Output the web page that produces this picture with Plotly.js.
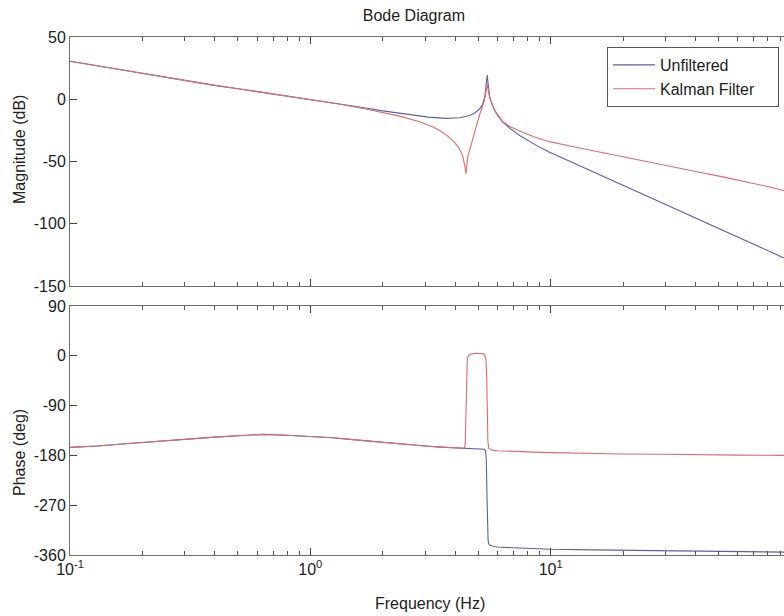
<!DOCTYPE html>
<html>
<head>
<meta charset="utf-8">
<script src="https://cdn.plot.ly/plotly-3.0.1.min.js"></script>
<style>
html,body{margin:0;padding:0;overflow:hidden;background:#fff;}
#chart{width:792px;height:616px;}
</style>
</head>
<body>
<div id="chart"></div>
<script>
// ---- Data (frequency in Hz) ----
const seriesNames = ["Unfiltered", "Kalman Filter"];

const freqMagUnfiltered = [0.1, 0.13, 0.17, 0.2, 0.3, 0.4, 0.5, 0.7, 1.0, 1.3, 1.7, 2.0, 2.35, 2.7, 3.1, 3.69, 4.2, 4.6, 4.85, 5.07, 5.2, 5.32, 5.38, 5.42, 5.45, 5.48, 5.52, 5.58, 5.7, 5.85, 6.05, 6.32, 6.8, 7.43, 8.72, 9.9, 12, 16, 20, 25, 32, 41.6, 52, 67, 80, 92, 100];
const magUnfiltered = [30.5, 26.8, 23, 20.6, 15.3, 11.2, 8.5, 4.4, 0, -3.4, -7, -9.3, -11, -12.8, -14.3, -15.3, -14.8, -13, -10.8, -7.5, -4.5, 2, 10, 17, 19.4, 14, 7, 2, -4, -8.9, -13.5, -18.3, -23.5, -29, -37, -42.5, -49.8, -60.6, -69, -77.5, -86.8, -96.7, -105, -114.7, -120.8, -126.7, -129.9];

const freqMagKalman = [0.1, 0.13, 0.17, 0.2, 0.3, 0.4, 0.5, 0.7, 1.0, 1.3, 1.7, 2.0, 2.35, 2.85, 3.22, 3.45, 3.7, 3.95, 4.15, 4.3, 4.38, 4.42, 4.44, 4.47, 4.52, 4.6, 4.75, 4.89, 5.05, 5.2, 5.3, 5.37, 5.42, 5.45, 5.5, 5.58, 5.85, 6.32, 6.8, 7.43, 8.5, 9.9, 12, 16, 20, 25.8, 32, 41.6, 52, 67, 80, 92, 100];
const magKalman = [30.5, 26.8, 23, 20.6, 15.3, 11.2, 8.5, 4.4, 0, -3.6, -7.8, -10.5, -13.5, -18, -22, -25, -29, -34, -39, -45, -51, -56, -60, -53, -46, -41, -30, -22.3, -13, -6.2, -1, 5, 10, 12, 7, 1, -9, -18, -22, -25.5, -30, -34, -37.5, -42.5, -46.3, -50.6, -54.3, -58.6, -62.3, -66.7, -70, -73, -74.5];

const freqPhaseUnfiltered = [0.1, 0.13, 0.17, 0.2, 0.3, 0.4, 0.5, 0.635, 0.8, 1.0, 1.24, 1.5, 2.0, 2.35, 3.0, 3.5, 4.0, 4.5, 5.0, 5.3, 5.36, 5.40, 5.43, 5.46, 5.49, 5.53, 5.6, 5.8, 6.0, 7.0, 8.5, 10, 15, 20, 30, 40, 60, 100];
const phaseUnfiltered = [-165.5, -163, -159, -156.5, -150.5, -147, -144.5, -142, -143.5, -145.5, -148, -151.5, -156.5, -159.5, -163, -165, -166, -167, -168, -169, -172, -190, -250, -310, -333, -340, -342.5, -344.5, -345.5, -347, -348.5, -349.7, -350.8, -351.5, -352.5, -353, -354, -355];

const freqPhaseKalman = [0.1, 0.13, 0.17, 0.2, 0.3, 0.4, 0.5, 0.635, 0.8, 1.0, 1.24, 1.5, 2.0, 2.35, 3.0, 3.5, 4.0, 4.38, 4.41, 4.43, 4.445, 4.46, 4.5, 4.58, 4.7, 4.9, 5.1, 5.25, 5.33, 5.38, 5.42, 5.45, 5.48, 5.53, 5.6, 5.7, 6.0, 7.0, 8.5, 10, 15, 20, 30, 40, 60, 100];
const phaseKalman = [-165.5, -163, -159, -156.5, -150.5, -147, -144.5, -142, -143.5, -145.5, -148, -151.5, -156.5, -159.5, -163, -165, -166, -167, -160, -120, -60, -20, -4, 1.5, 3.5, 4.5, 4.5, 3.5, 0, -8, -40, -110, -155, -167, -169, -170.5, -171.5, -173, -174, -175, -177, -177.5, -178, -179, -179.5, -180];

const xTickVals = [0.1, 1, 10, 100];
const xTickText = ["10<sup>-1</sup>", "10<sup>0</sup>", "10<sup>1</sup>", "10<sup>2</sup>"];
const xMinorVals = [0.2,0.3,0.4,0.5,0.6,0.7,0.8,0.9,2,3,4,5,6,7,8,9,20,30,40,50,60,70,80,90];
const magTicks = [-150, -100, -50, 0, 50];
const magTickText = ["-150", "-100", "-50", "0", "50"];
const phaseTicks = [-360, -270, -180, -90, 0, 90];
const phaseTickText = ["-360", "-270", "-180", "-90", "0", "90"];

// ---- Styling ----
const blue = "#5a5fb0";
const red = "#e2696b";
const axisColor = "#6e6e6e";
const font = "Liberation Sans, Arial, Helvetica, sans-serif";
const legendPad = "\u00a0\u00a0\u00a0\u00a0"; // right padding inside the legend box

const traces = [
  {x: freqMagUnfiltered, y: magUnfiltered, xaxis: "x", yaxis: "y", name: seriesNames[0] + legendPad, legendgroup: "u",
   mode: "lines", line: {color: blue, width: 1.1}},
  {x: freqPhaseUnfiltered, y: phaseUnfiltered, xaxis: "x2", yaxis: "y2", name: seriesNames[0], legendgroup: "u", showlegend: false,
   mode: "lines", line: {color: blue, width: 1.1}},
  {x: freqMagKalman, y: magKalman, xaxis: "x", yaxis: "y", name: seriesNames[1] + legendPad, legendgroup: "k",
   mode: "lines", line: {color: red, width: 1.1}},
  {x: freqPhaseKalman, y: phaseKalman, xaxis: "x2", yaxis: "y2", name: seriesNames[1], legendgroup: "k", showlegend: false,
   mode: "lines", line: {color: red, width: 1.1}}
];

const baseX = {
  type: "log", range: [-1, 2], tickmode: "array", tickvals: xTickVals, ticktext: xTickText,
  ticks: "inside", ticklen: 7, tickcolor: "#444", showline: true, linecolor: axisColor, linewidth: 1,
  mirror: "ticks", showgrid: false, zeroline: false,
  minor: {tickmode: "array", tickvals: xMinorVals, ticks: "inside", ticklen: 4, tickcolor: "#555", showgrid: false},
  tickfont: {family: font, size: 16, color: "#222"}
};
const baseY = {
  ticks: "inside", ticklen: 7, tickcolor: "#444", showline: true, linecolor: axisColor, linewidth: 1,
  mirror: "ticks", showgrid: false, zeroline: false, tickmode: "array",
  tickfont: {family: font, size: 16, color: "#222"}
};

const layout = {
  width: 792, height: 616,
  margin: {l: 70, r: 1, t: 37, b: 61},
  paper_bgcolor: "#fff", plot_bgcolor: "#fff",
  font: {family: font, size: 16, color: "#222"},
  title: {text: "Bode Diagram", x: 0.477, xref: "paper", y: 1 - 15/616, yref: "container", yanchor: "middle",
          font: {family: font, size: 16, color: "#222"}},
  xaxis: Object.assign({}, baseX, {anchor: "y", showticklabels: false, matches: "x2"}),
  xaxis2: Object.assign({}, baseX, {anchor: "y2"}),
  yaxis: Object.assign({}, baseY, {domain: [0.519, 1], range: [-150, 50], tickvals: magTicks, ticktext: magTickText}),
  yaxis2: Object.assign({}, baseY, {domain: [0, 0.4807], range: [-360, 90], tickvals: phaseTicks, ticktext: phaseTickText}),
  showlegend: true,
  legend: {x: 0.9834, xanchor: "right", y: 0.9807, yanchor: "top", bgcolor: "#fff",
           bordercolor: "#555", borderwidth: 1, font: {family: font, size: 16, color: "#222"},
           tracegroupgap: 0, itemwidth: 42},
  annotations: [
    {text: "Magnitude (dB)", xref: "paper", yref: "paper", x: -0.0693, y: 0.782, textangle: -90,
     showarrow: false, xanchor: "center", yanchor: "middle", font: {family: font, size: 16, color: "#222"}},
    {text: "Phase (deg)", xref: "paper", yref: "paper", x: -0.0693, y: 0.197, textangle: -90,
     showarrow: false, xanchor: "center", yanchor: "middle", font: {family: font, size: 16, color: "#222"}},
    {text: "Frequency (Hz)", xref: "paper", yref: "paper", x: 0.4993, y: -0.0927,
     showarrow: false, xanchor: "center", yanchor: "middle", font: {family: font, size: 16, color: "#222"}}
  ]
};

Plotly.newPlot("chart", traces, layout, {displayModeBar: false, staticPlot: true});
</script>
</body>
</html>
